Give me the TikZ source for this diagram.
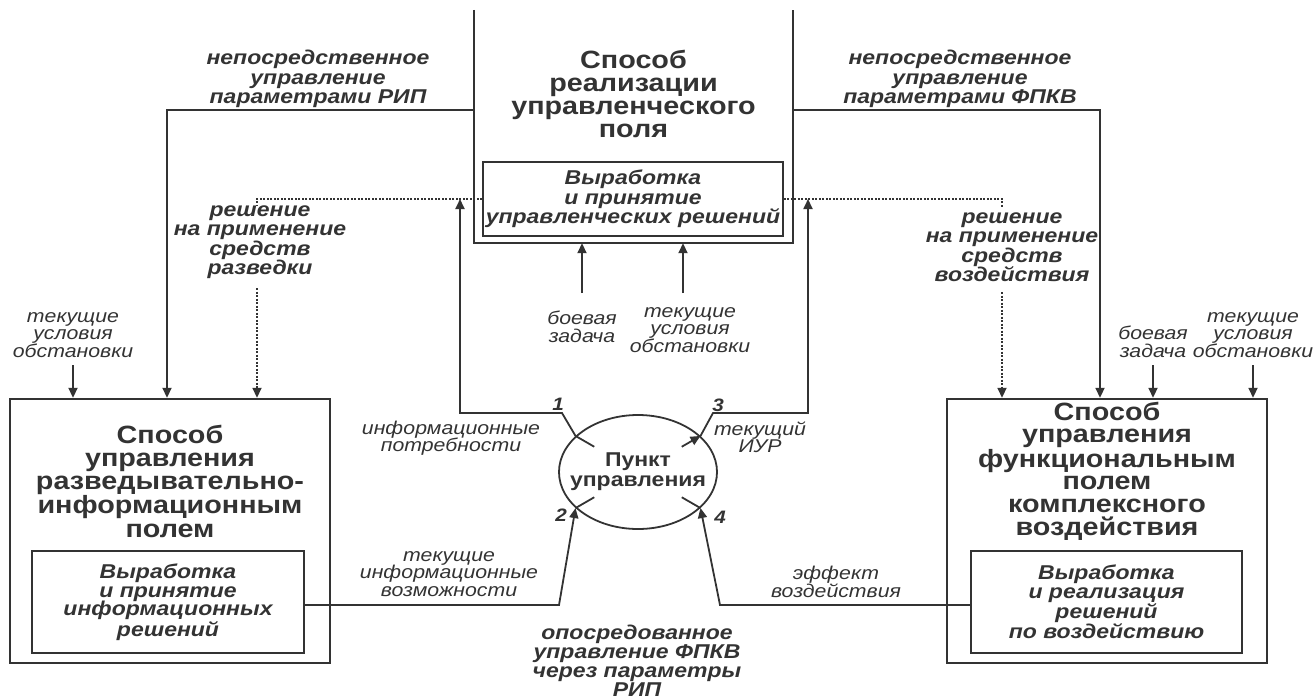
\documentclass[tikz,border=0pt]{standalone}
\usepackage{fontspec}
\setmainfont{Liberation Sans}[FakeStretch=1.15]
\usetikzlibrary{arrows.meta,shapes.geometric,calc}
\definecolor{ink}{HTML}{333333}
\begin{document}
\begin{tikzpicture}[x=1pt,y=-1pt,
  every node/.style={text=ink, inner sep=0pt, align=center},
  outerbox/.style={draw=ink, line width=2.4pt, rectangle},
  innerbox/.style={draw=ink, line width=1.8pt, rectangle},
  title/.style={font=\fontsize{25}{23.2}\selectfont\bfseries},
  inner/.style={font=\fontsize{20}{19.5}\selectfont\bfseries\itshape},
  lbl/.style={font=\fontsize{18.5}{17.5}\selectfont\itshape},
  blbl/.style={font=\fontsize{20}{19.5}\selectfont\bfseries\itshape},
  num/.style={font=\fontsize{18}{18}\selectfont\bfseries\itshape},
  conn/.style={draw=ink, line width=1.8pt},
  arr/.style={conn, -{Triangle[length=10pt,width=9pt]}},
  dots/.style={draw=ink, line width=1.7pt, dash pattern=on 2pt off 1.5pt},
  dotarr/.style={dots, -{Triangle[length=10pt,width=9pt]}},
]
\useasboundingbox (0,0) rectangle (1313,699);

% ---- control field (open at the top) ----
\node[minimum width=319pt, minimum height=233pt] (topbox) at (633.5,126.5) {};
\draw[draw=ink, line width=2.4pt]
  (topbox.north west) -- (topbox.south west) -- (topbox.south east) -- (topbox.north east);
\node[title] (toptitle) at (633.5,94) {Способ\\реализации\\управленческого\\поля};
\node[innerbox, inner, minimum width=300pt, minimum height=74pt] (topin) at (633,199)
  {Выработка\\и принятие\\управленческих решений};

% ---- reconnaissance/information field ----
\node[outerbox, minimum width=320pt, minimum height=264pt] (leftbox) at (170,531) {};
\node[title] (lefttitle) at (170,481) {Способ\\управления\\разведывательно-\\информационным\\полем};
\node[innerbox, inner, minimum width=272pt, minimum height=102pt, font=\fontsize{20}{18.7}\selectfont\bfseries\itshape] (leftin) at (168,602)
  {Выработка\\и принятие\\информационных\\решений};

% ---- functional field ----
\node[outerbox, minimum width=320pt, minimum height=264pt] (rightbox) at (1107,531) {};
\node[title, font=\fontsize{25}{22.6}\selectfont\bfseries] (righttitle) at (1107,471)
  {Способ\\управления\\функциональным\\полем\\комплексного\\воздействия};
\node[innerbox, inner, minimum width=271pt, minimum height=102pt, font=\fontsize{20}{18.3}\selectfont\bfseries\itshape] (rightin) at (1106.5,602)
  {Выработка\\и реализация\\решений\\по воздействию};

% ---- command post ----
\node[ellipse, draw=ink, line width=1.8pt, minimum width=158pt, minimum height=114pt] (pu) at (638,472) {};
\node[font=\fontsize{20}{20}\selectfont\bfseries] (putext) at (pu.center) {Пункт\\управления};

% ---- junction points ----
\coordinate (c1) at (562,413);
\coordinate (c3) at (713,413);
\coordinate (c2) at (559,605);
\coordinate (c4) at (720,605);
\coordinate (j1) at (460,199);
\coordinate (j3) at (808,199);
\coordinate (k1) at (167,110);
\coordinate (k3) at (1100,110);
\coordinate (d1) at (257,199);
\coordinate (d3) at (1002,199);

% ---- flows 1..4 around the command post ----
\draw[arr] ($(pu.150)!0.3!(pu.center)$) -- (pu.150) -- (c1) -| (j1);
\draw[arr] ($(pu.30)!0.3!(pu.center)$) -- (pu.30);
\draw[arr] (pu.30) -- (c3) -| (j3);
\draw[arr] (leftin.east |- c2) -- (c2) -- (pu.210);
\draw[conn] (pu.210) -- ($(pu.210)!0.3!(pu.center)$);
\draw[arr] (rightin.west |- c4) -- (c4) -- (pu.330);
\draw[conn] (pu.330) -- ($(pu.330)!0.3!(pu.center)$);

\node[num] (n1) at (558,404) {1};
\node[num] (n3) at (718,405) {3};
\node[num] (n2) at (561,515) {2};
\node[num] (n4) at (720,517) {4};

\node[lbl] (infneed) at (451,438) {информационные\\потребности};
\node[lbl] (iur) at (760,437) {текущий\\ИУР};
\node[lbl] (infcap) at (449,574) {текущие\\информационные\\возможности};
\node[lbl] (effect) at (836,582) {эффект\\воздействия};

% ---- direct control lines ----
\draw[arr] (topbox.west |- k1) -- (k1) -- (leftbox.north -| k1);
\draw[arr] (topbox.east |- k3) -- (k3) -- (rightbox.north -| k3);
\node[blbl] (dirL) at (318,79) {непосредственное\\управление\\параметрами РИП};
\node[blbl] (dirR) at (960,79) {непосредственное\\управление\\параметрами ФПКВ};

% ---- decisions on the use of means (dotted) ----
\node[blbl] (decL) at (260,242) {решение\\на применение\\средств\\разведки};
\node[blbl] (decR) at (1012,247) {решение\\на применение\\средств\\воздействия};
\coordinate (d1a) at (257,205);
\coordinate (d1b) at (257,288);
\coordinate (d3a) at (1002,207);
\coordinate (d3b) at (1002,292);
\draw[dots] (topin.west) -- (d1) -- (d1a);
\draw[dotarr] (d1b) -- (leftbox.north -| d1b);
\draw[dots] (topin.east) -- (d3) -- (d3a);
\draw[dotarr] (d3b) -- (rightbox.north -| d3b);

% ---- external inputs ----
\node[lbl] (condL) at (73,335) {текущие\\условия\\обстановки};
\coordinate (eL) at (73,365);
\draw[arr] (eL) -- (leftbox.north -| eL);

\node[lbl] (taskM) at (582,327) {боевая\\задача};
\node[lbl] (condM) at (690,330) {текущие\\условия\\обстановки};
\coordinate (eM1) at (582,293);
\coordinate (eM2) at (683,293);
\draw[arr] (eM1) -- (topbox.south -| eM1);
\draw[arr] (eM2) -- (topbox.south -| eM2);

\node[lbl] (taskR) at (1153,342) {боевая\\задача};
\node[lbl] (condR) at (1253,335) {текущие\\условия\\обстановки};
\coordinate (eR1) at (1153,365);
\coordinate (eR2) at (1253,365);
\draw[arr] (eR1) -- (rightbox.north -| eR1);
\draw[arr] (eR2) -- (rightbox.north -| eR2);

% ---- indirect control ----
\node[blbl, font=\fontsize{20}{19}\selectfont\bfseries\itshape] (indirect) at (637,661)
  {опосредованное\\управление ФПКВ\\через параметры\\РИП};
\end{tikzpicture}
\end{document}
